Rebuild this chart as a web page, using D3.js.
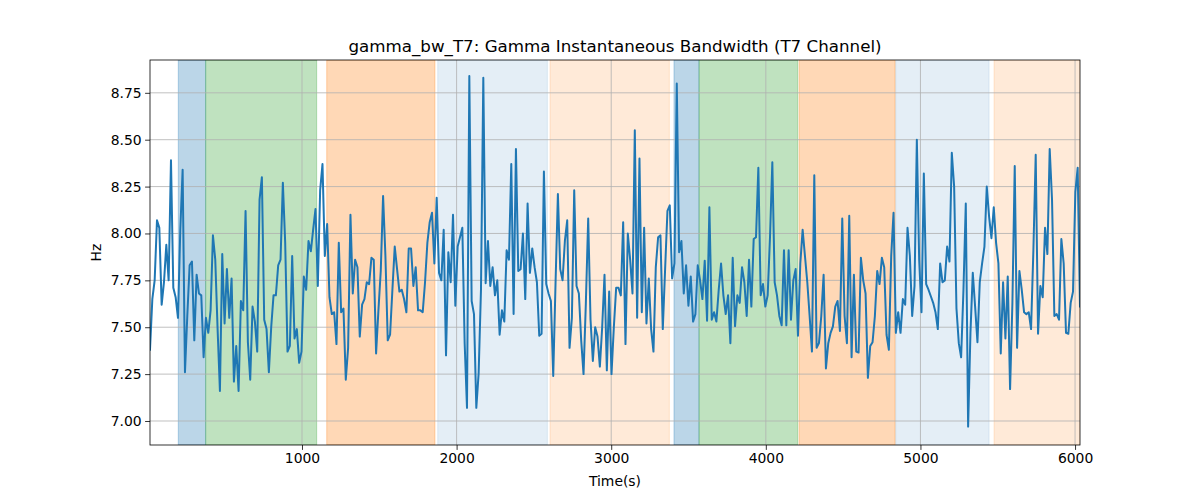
<!DOCTYPE html>
<html><head><meta charset="utf-8">
<script src="https://cdn.jsdelivr.net/npm/d3@7"></script>
<style>body{margin:0;background:#fff}svg{display:block}text{font-family:"DejaVu Sans",sans-serif}</style>
</head><body><svg id="c" width="1200" height="500"></svg>
<script>
const values = [
7.38,7.65,7.75,8.07,8.03,7.62,7.74,7.94,7.75,8.39,7.71,7.66,7.55,8.02,8.34,7.26,7.56,7.83,7.85,7.43,
7.78,7.68,7.67,7.34,7.55,7.47,7.59,7.99,7.86,7.49,7.16,7.89,7.52,7.81,7.55,7.76,7.21,7.40,7.16,7.64,
7.59,8.12,7.42,7.22,7.61,7.53,7.37,8.18,8.30,7.54,7.49,7.26,7.50,7.67,7.67,7.83,7.86,8.27,7.95,7.37,
7.40,7.88,7.44,7.49,7.31,7.37,7.77,7.70,7.96,
7.905,8.02,8.13,7.72,8.23,8.37,7.88,8.05,7.66,7.57,7.58,7.41,7.95,7.58,7.60,7.22,7.39,8.10,7.68,7.86,
7.82,7.45,7.62,7.65,7.74,7.73,7.87,7.86,7.36,7.59,7.80,8.20,7.88,7.43,7.46,7.70,7.93,7.81,7.69,7.70,
7.65,7.58,7.92,7.92,7.72,7.82,7.59,7.59,7.58,7.74,7.95,8.06,8.11,7.84,8.19,7.79,7.75,8.02,7.35,7.90,
7.74,8.10,7.615,7.93,7.98,8.03,7.415,7.07,8.84,
7.64,7.57,7.07,7.255,7.70,8.83,7.735,7.96,7.72,7.82,7.67,7.75,7.46,7.59,7.53,7.91,7.86,8.37,7.57,8.45,
7.80,7.81,8.00,7.65,8.16,7.79,7.92,7.82,7.74,7.455,7.465,8.33,7.73,7.68,7.64,7.24,7.74,8.21,7.81,7.75,
7.96,8.07,7.39,7.55,8.23,7.72,7.68,7.43,7.25,7.63,8.08,7.54,7.32,7.50,7.45,7.29,7.50,7.78,7.27,7.69,
7.25,7.50,7.71,7.71,7.67,8.06,7.41,8.00,
7.86,7.68,8.55,7.55,8.40,7.58,8.03,7.52,7.76,7.49,7.37,7.82,7.98,7.99,7.49,7.81,8.12,8.15,7.76,7.84,
8.80,7.90,7.96,7.68,7.83,7.615,7.77,7.53,7.57,7.83,7.75,7.65,7.855,7.535,8.14,7.54,7.58,7.53,7.70,7.84,
7.67,7.57,7.67,7.415,7.87,7.505,7.67,7.63,7.82,7.74,7.56,7.86,7.61,7.97,7.98,8.35,7.67,7.73,7.61,7.67,
7.98,8.38,7.74,7.67,7.56,7.51,7.91,7.51,
7.91,7.54,7.75,7.81,7.455,7.84,8.02,7.88,7.74,7.56,7.37,8.31,7.39,7.415,7.56,7.78,7.28,7.415,7.47,7.505,
7.61,7.64,7.48,8.08,7.56,7.415,8.095,7.34,7.78,7.37,7.365,7.87,7.75,7.68,7.23,7.40,7.42,7.56,7.80,7.73,
7.87,7.82,7.46,7.38,7.88,8.11,7.47,7.58,7.47,7.65,7.62,8.03,7.88,7.56,7.72,8.50,7.86,7.58,8.32,7.73,
7.70,7.665,7.63,7.58,7.49,7.84,7.74,7.75,7.93,
7.85,8.43,8.25,7.60,7.415,7.34,7.70,8.16,6.97,7.47,7.79,7.61,7.42,7.74,7.84,7.93,8.25,8.09,7.975,8.14,
7.95,7.84,7.36,7.74,7.44,7.77,7.17,7.63,8.36,7.39,7.80,7.70,7.58,7.57,7.58,7.49,7.91,8.42,7.465,7.72,
7.66,8.03,7.89,8.45,8.18,7.56,7.57,7.54,7.97,7.84,7.47,7.465,7.63,7.69,8.22,8.35,7.61
];
const timeStart = 17, timeEnd = 6032;
const spanStarts = [200, 377, 1160, 1878, 2604, 3406, 3568, 4215, 4840, 5476];
const spanEnds   = [377, 1095, 1860, 2587, 3376, 3568, 4206, 4836, 5444, 6032];
const spanKinds  = ["blue","green","orange","lblue","lorange","blue","green","orange","lblue","lorange"];
const xTicks = [1000,2000,3000,4000,5000,6000];
const yTicks = [7.00,7.25,7.50,7.75,8.00,8.25,8.50,8.75];
const title = "gamma_bw_T7: Gamma Instantaneous Bandwidth (T7 Channel)";

const spanStyle = {
  blue:{fill:"#1f77b4",op:0.3}, green:{fill:"#2ca02c",op:0.3}, orange:{fill:"#ff7f0e",op:0.3},
  lblue:{fill:"#1f77b4",op:0.12}, lorange:{fill:"#ff7f0e",op:0.16}
};
const step = (timeEnd - timeStart)/(values.length-1);
const data = values.map((v,i)=>({t: timeStart + i*step, v}));

const L=150, R=1080, T=60, B=445;
const svg = d3.select("#c");
const x = d3.scaleLinear().domain([timeStart,timeEnd]).range([L,R]);
const y = d3.scaleLinear().domain([6.872,8.925]).range([B,T]);

svg.append("defs").append("clipPath").attr("id","clip").append("rect")
 .attr("x",L).attr("y",T).attr("width",R-L).attr("height",B-T);

// spans
svg.append("g").attr("clip-path","url(#clip)").selectAll("rect")
 .data(spanStarts.map((s,i)=>({s,e:spanEnds[i],k:spanKinds[i]})))
 .enter().append("rect")
 .attr("x",d=>x(d.s)).attr("width",d=>x(d.e)-x(d.s))
 .attr("y",T).attr("height",B-T)
 .attr("fill",d=>spanStyle[d.k].fill).attr("fill-opacity",d=>spanStyle[d.k].op)
 .attr("stroke",d=>spanStyle[d.k].fill).attr("stroke-opacity",d=>spanStyle[d.k].op).attr("stroke-width",1);

// grid
const g = svg.append("g");
g.selectAll(".gx").data(xTicks).enter().append("line")
 .attr("x1",d=>x(d)).attr("x2",d=>x(d)).attr("y1",T).attr("y2",B)
 .attr("stroke","#b0b0b0").attr("stroke-width",0.8);
g.selectAll(".gy").data(yTicks).enter().append("line")
 .attr("y1",d=>y(d)).attr("y2",d=>y(d)).attr("x1",L).attr("x2",R)
 .attr("stroke","#b0b0b0").attr("stroke-width",0.8);

// line
svg.append("path").datum(data).attr("clip-path","url(#clip)")
 .attr("d", d3.line().x(d=>x(d.t)).y(d=>y(d.v)))
 .attr("fill","none").attr("stroke","#1f77b4").attr("stroke-width",2)
 .attr("stroke-linejoin","round").attr("stroke-linecap","square");

// axes
const xa = svg.append("g").attr("transform",`translate(0,${B})`)
 .call(d3.axisBottom(x).tickValues(xTicks).tickFormat(d3.format("d")).tickSize(4.9).tickPadding(3.5));
const ya = svg.append("g").attr("transform",`translate(${L},0)`)
 .call(d3.axisLeft(y).tickValues(yTicks).tickFormat(d3.format(".2f")).tickSize(4.9).tickPadding(3.5));
[xa,ya].forEach(a=>{
  a.select(".domain").remove();
  a.selectAll("text").attr("font-size","13.9px").attr("fill","#000").attr("font-family","DejaVu Sans");
  a.selectAll("line").attr("stroke","#000").attr("stroke-width",0.8);
});
svg.append("rect").attr("x",L).attr("y",T).attr("width",R-L).attr("height",B-T)
 .attr("fill","none").attr("stroke","#000").attr("stroke-width",0.8);

svg.append("text").attr("x",(L+R)/2).attr("y",52).attr("text-anchor","middle")
 .attr("font-size","16.7px").text(title);
svg.append("text").attr("x",(L+R)/2).attr("y",486).attr("text-anchor","middle")
 .attr("font-size","13.9px").text("Time(s)");
svg.append("text").attr("transform",`translate(101,${(T+B)/2}) rotate(-90)`).attr("text-anchor","middle")
 .attr("font-size","13.9px").text("Hz");
</script></body></html>
